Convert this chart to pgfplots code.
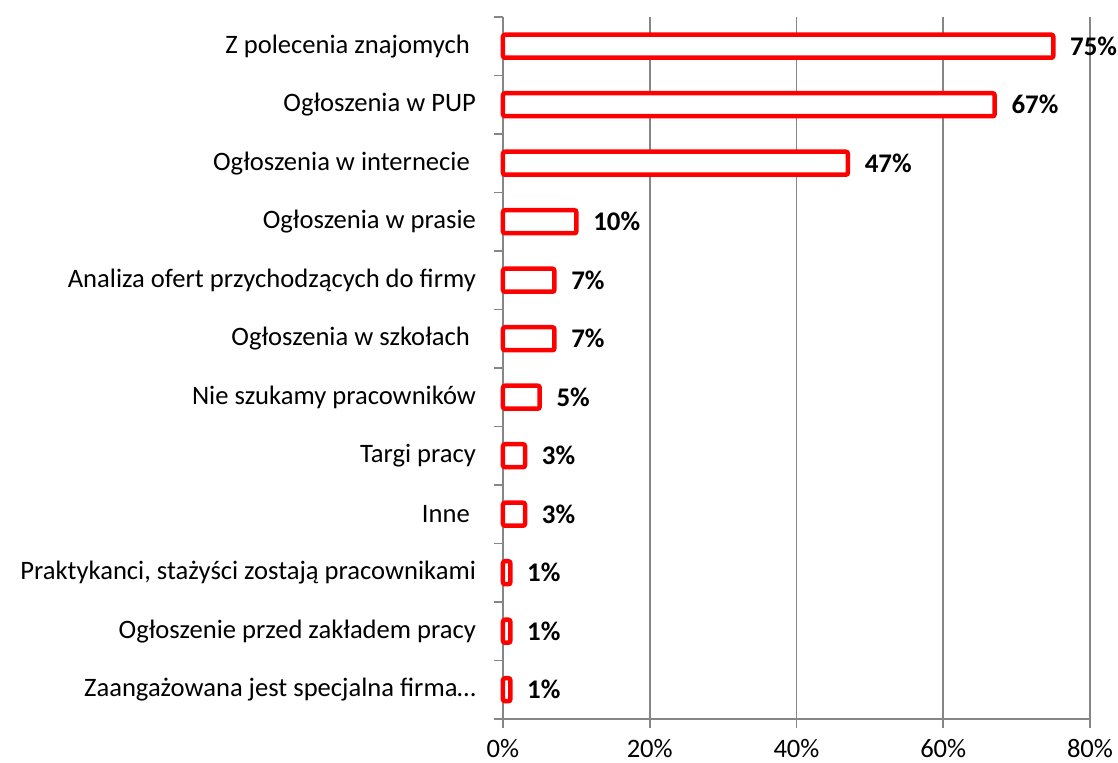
\documentclass[border=0pt]{standalone}
\usepackage{pgfplots}
\pgfplotsset{compat=1.18}
\usepackage{fontspec}
\setmainfont{Carlito}
\definecolor{axgray}{RGB}{134,134,134}
\definecolor{barred}{RGB}{255,0,0}
\begin{document}
\begin{tikzpicture}
\path[use as bounding box] (-251.5pt,-22pt) rectangle (307.5pt,359.5pt);
\begin{axis}[
  at={(0,0)}, anchor=south west,
  scale only axis,
  width=293.5pt, height=351pt,
  xbar, bar width=11.5pt,
  xmin=0, xmax=80, ymin=-0.5, ymax=11.5,
  enlargelimits=false,
  clip=false,
  axis x line*=bottom, axis y line*=left,
  axis line style={draw=axgray, line width=0.9pt, -},
  xtick={0,20,40,60,80},
  xticklabels={0\%,20\%,40\%,60\%,80\%},
  ytick={-0.5,0.5,...,11.5},
  yticklabels={},
  extra y ticks={0,...,11},
  extra y tick labels={Zaangażowana jest specjalna firma…,
    Ogłoszenie przed zakładem pracy,
    {Praktykanci, stażyści zostają pracownikami},
    Inne\kern0.23em,
    Targi pracy,
    Nie szukamy pracowników,
    Ogłoszenia w szkołach\kern0.23em,
    Analiza ofert przychodzących do firmy,
    Ogłoszenia w prasie,
    Ogłoszenia w internecie\kern0.23em,
    Ogłoszenia w PUP,
    Z polecenia znajomych\kern0.23em},
  extra y tick style={major tick length=0pt, yticklabel style={xshift=-10pt}},
  tick align=outside,
  xtick pos=left, ytick pos=left,
  tick style={draw=axgray, line width=0.9pt},
  major tick length=4.5pt,
  xmajorgrids=true, ymajorgrids=false,
  major grid style={draw=axgray, line width=0.9pt},
  tick label style={font=\fontsize{13.3pt}{15pt}\selectfont, text=black},
  xticklabel style={inner sep=0.5pt, yshift=-5pt},
  nodes near coords={\bfseries\pgfmathprintnumber[assume math mode=true]{\pgfplotspointmeta}\%},
  every node near coord/.append style={font=\fontsize{13.45pt}{15pt}\selectfont\bfseries, text=black, xshift=4pt},
]
\addplot[draw=barred, fill=white, line width=2.25pt, rounded corners=1pt] coordinates {
  (1,0) (1,1) (1,2) (3,3) (3,4) (5,5) (7,6) (7,7) (10,8) (47,9) (67,10) (75,11)
};
\end{axis}
\end{tikzpicture}
\end{document}
